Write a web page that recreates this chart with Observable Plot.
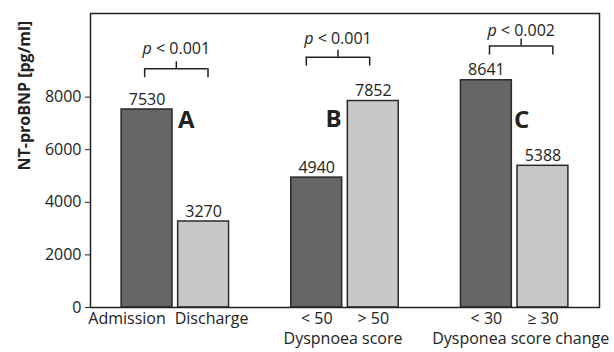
<!DOCTYPE html>
<html><head><meta charset="utf-8">
<script src="https://cdn.jsdelivr.net/npm/d3@7"></script>
<script src="https://cdn.jsdelivr.net/npm/@observablehq/plot@0.6"></script>
<style>body{margin:0;background:#fff;}</style>
</head><body><div id="chart"></div>
<script>
// ---- data ----
const categories = ["Admission", "Discharge", "< 50", "> 50", "< 30", "≥ 30"];
const groupOf = [0, 0, 1, 1, 2, 2];
const values = [7530, 3270, 4940, 7852, 8641, 5388];
const tone = ["dark", "light", "dark", "light", "dark", "light"];
const groupNames = ["", "Dyspnoea score", "Dysponea score change"];
const panelLetters = ["A", "B", "C"];
const pLabels = ["p < 0.001", "p < 0.001", "p < 0.002"];
const bracketLevels = [9080, 9520, 9940];
const pLevels = [9833, 10221, 10506];
const letterLevels = [7130, 7170, 7100];
const yTicks = [0, 2000, 4000, 6000, 8000];
const yLabel = "NT-proBNP [pg/ml]";

// ---- derived tables ----
const rows = categories.map((c, i) => ({cat: c, value: values[i], group: groupOf[i], pos: i + groupOf[i], tone: tone[i]}));
const groups = groupNames.map((name, j) => {
  const members = rows.filter(r => r.group === j);
  return {name, letter: panelLetters[j], p: pLabels[j], level: bracketLevels[j], pLevel: pLevels[j],
          letterLevel: letterLevels[j], mid: d3.mean(members, r => r.pos)};
});

// layout nudges (pixels)
const bracketNudge = [1, -7, 6.5];
const letterNudge = [11, -11.5, 7];
const groupLabelNudge = [0, -2, 6];
const half = 0.56, leg = 342, tick = 266;
const fs = 16;

const marks = [
  Plot.rectY(rows, {x1: d => d.pos - 0.45, x2: d => d.pos + 0.45, y: "value", fill: "tone",
                    stroke: "#2a2a2a", strokeWidth: 1.5}),
  Plot.text(rows, {x: "pos", y: "value", text: d => String(d.value), dy: -10, fontSize: fs}),
  // category tick labels
  Plot.text(rows.filter(r => r.cat === "Admission"), {x: "pos", text: "cat", frameAnchor: "bottom", dy: 16, dx: -20, fontSize: fs}),
  Plot.text(rows.filter(r => r.cat === "Discharge"), {x: "pos", text: "cat", frameAnchor: "bottom", dy: 16, dx: 8, fontSize: fs}),
  Plot.text(rows.filter(r => r.group > 0), {x: "pos", text: "cat", frameAnchor: "bottom", dy: 16, fontSize: fs}),
  Plot.frame({stroke: "#222", strokeWidth: 1.5}),
  Plot.axisY(yTicks, {tickSize: 5, tickPadding: 4, tickFormat: d => String(d), label: null, fontSize: fs, stroke: "#222"}),
  Plot.text([yLabel], {frameAnchor: "left", rotate: -90, dx: -66, dy: 10, text: d => d, fontWeight: "bold", fontSize: 16})
];
groups.forEach((g, j) => {
  const dx = bracketNudge[j];
  marks.push(
    Plot.ruleY([g], {x1: d => d.mid - half, x2: d => d.mid + half, y: "level", dx, stroke: "#222", strokeWidth: 1.5}),
    Plot.ruleX([g.mid - half, g.mid + half], {x: d => d, y1: g.level - leg, y2: g.level, dx, stroke: "#222", strokeWidth: 1.5}),
    Plot.ruleX([g], {x: "mid", y1: "level", y2: d => d.level + tick, dx, stroke: "#222", strokeWidth: 1.5}),
    Plot.text([g], {x: "mid", y: "pLevel", text: "p", dx, fontSize: fs}),
    Plot.text([g], {x: "mid", y: "letterLevel", text: "letter", dx: letterNudge[j], fontSize: 24, fontWeight: "bold"})
  );
  if (g.name) marks.push(Plot.text([g], {x: "mid", text: "name", frameAnchor: "bottom", dy: 36, dx: groupLabelNudge[j], fontSize: fs}));
});

const chart = Plot.plot({
  width: 614, height: 352,
  marginLeft: 90, marginRight: 15, marginTop: 13, marginBottom: 45,
  style: {fontFamily: "'Open Sans', sans-serif", fontSize: "16px", color: "#222", background: "#fff"},
  x: {domain: [-1, 8], axis: null},
  y: {domain: [0, 11180], axis: null},
  color: {domain: ["dark", "light"], range: ["#666666", "#c8c8c8"]},
  marks
});
// italic "p" in p-value labels
chart.querySelectorAll("text").forEach(t => {
  const s = t.textContent;
  if (/^p </.test(s)) {
    t.textContent = "";
    const ns = "http://www.w3.org/2000/svg";
    const a = document.createElementNS(ns, "tspan"); a.setAttribute("font-style", "italic"); a.textContent = "p";
    const b = document.createElementNS(ns, "tspan"); b.textContent = s.slice(1);
    t.appendChild(a); t.appendChild(b);
  }
});
document.getElementById("chart").appendChild(chart);
</script>
</body></html>
